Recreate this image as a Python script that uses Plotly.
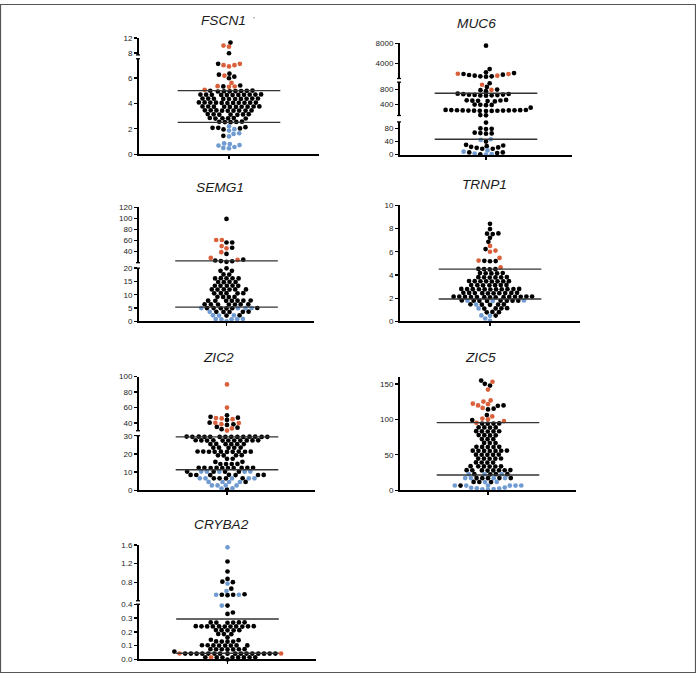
import math
import plotly.graph_objects as go

W, H = 696, 678
RED, BLACK, BLUE = '#D9603B', '#000000', '#6F9BD1'

# ---------------- data ----------------
FSCN1_red = [10.0, 9.7, 7.1, 7.0, 6.9, 7.0, 6.17, 5.6, 5.35, 5.3, 5.32, 5.06]
FSCN1_black = [10.8, 7.95, 7.1, 6.33, 6.25, 6.09, 5.97, 5.4, 5.33,
               5.0, 4.99, 4.98, 4.97, 4.96, 4.95, 4.94, 4.93,
               4.7, 4.69, 4.69, 4.68, 4.68, 4.67, 4.67, 4.66, 4.66, 4.65, 4.65,
               4.38, 4.38, 4.37, 4.37, 4.36, 4.36, 4.35, 4.35, 4.34, 4.34,
               4.07, 4.07, 4.06, 4.06, 4.05, 4.05, 4.04, 4.04, 4.03, 4.03, 4.02,
               3.76, 3.76, 3.75, 3.75, 3.74, 3.74, 3.73, 3.73, 3.72, 3.72,
               3.45, 3.45, 3.44, 3.44, 3.43, 3.43, 3.42, 3.42, 3.41,
               3.16, 3.15, 3.14, 3.13, 3.12, 3.11, 3.1,
               2.85, 2.84, 2.83, 2.82, 2.81, 2.8,
               2.56, 2.55, 2.54, 2.53, 2.52,
               2.13, 2.08, 2.08, 2.03, 1.95, 1.45]
FSCN1_blue = [2.2, 1.97, 1.86, 1.65, 1.6, 1.4, 0.85, 0.8, 0.72, 0.68, 0.57, 0.5, 0.47]
FSCN1_lines = [5.0, 2.5]
FSCN1_ticks = [[0, 2, 4, 6], [8, 12]]

MUC6_red = [1900, 1560, 1950, 930, 790]
MUC6_black = [7550, 2880,
              2230, 1900, 1760, 1440, 1360, 1440, 1560, 1700, 2090,
              970, 870, 757, 784, 800,
              690, 680, 675, 665, 660, 655, 650, 645, 640, 635,
              520, 510, 505, 500, 495, 490, 480,
              395, 390, 385, 380, 310,
              250, 248, 246, 244, 242, 240, 238, 236, 234, 232, 230, 228, 226, 224, 222,
              112, 105, 98, 80, 79, 78, 67, 66, 65, 64, 40,
              30, 28, 26, 24, 22, 21, 18, 18, 7, 7, 5, 1]
MUC6_blue = [47, 45, 13, 9, 3, 1.5, 0.5]
MUC6_lines = [700, 47]
MUC6_ticks = [[0, 40, 80], [400, 800], [4000, 8000]]

SEMG1_red = [61, 61, 50, 46, 39, 28.7, 25]
SEMG1_black = [99, 56.5, 56.5, 47, 36, 25.5, 24, 23, 22.7, 21.6,
               19.95, 19.0, 19.0,
               17.65, 17.6,
               16.25, 16.2, 16.2, 16.15, 16.15,
               14.85, 14.8, 14.8, 14.75,
               13.45, 13.4, 13.4, 13.35, 13.35,
               12.05, 12.0, 12.0, 12.0, 11.95, 11.95,
               10.65, 10.6, 10.6, 10.55, 10.55,
               9.25, 9.2, 9.2, 9.15,
               7.85, 7.8, 7.8, 7.8, 7.75, 7.75, 7.75,
               6.45, 6.4, 6.4, 6.4, 6.35, 6.35, 6.35,
               5.05, 5.0, 5.0, 4.95, 4.95, 4.9,
               3.65, 3.6, 3.6, 3.55, 3.55, 2.3, 2.2]
SEMG1_blue = [5.02, 5.0, 4.98, 5.0, 3.6, 2.3, 2.25, 2.2, 0.95, 0.9, 0.85, 0.8, 0.75, 0.05]
SEMG1_lines = [23.5, 5.4]
SEMG1_ticks = [[0, 5, 10, 15, 20], [40, 60, 80, 100, 120]]

TRNP1_red = [6.5, 6.1, 6.0, 5.47, 5.24, 4.65]
TRNP1_black = [8.4, 7.95, 7.58, 7.52, 7.56, 7.2, 6.85, 6.23, 5.2, 5.18, 5.22,
               4.52, 4.5, 4.5, 4.48,
               4.17, 4.16, 4.15, 4.14, 4.13,
               3.82, 3.81, 3.8, 3.8, 3.79, 3.78,
               3.48, 3.47, 3.47, 3.46, 3.46, 3.45, 3.45, 3.44,
               3.14, 3.13, 3.13, 3.12, 3.12, 3.11, 3.11,
               2.8, 2.8, 2.79, 2.79, 2.78, 2.78, 2.77, 2.77, 2.76, 2.76, 2.75,
               2.46, 2.46, 2.45, 2.45, 2.44, 2.44, 2.43, 2.43, 2.42, 2.42,
               2.14, 2.14, 2.13, 2.13, 2.12, 2.12, 2.11, 2.11, 2.1, 2.1, 2.09, 2.09, 2.08, 2.08,
               1.8, 1.79, 1.79, 1.78, 1.78, 1.77, 1.77, 1.76,
               1.47, 1.46, 1.45, 1.44, 1.43,
               1.14, 1.13, 1.12, 1.11,
               0.82, 0.8, 0.78, 0.5]
TRNP1_blue = [1.81, 1.78, 1.75, 1.45, 1.12, 0.52, 0.48, 0.25, 0.05]
TRNP1_lines = [4.5, 1.93]
TRNP1_ticks = [[0, 2, 4, 6, 8, 10]]

ZIC2_red = [90, 60, 46, 45, 46.5, 40.3, 40, 38.5, 33, 30.2]
ZIC2_black = [50, 48, 47, 44, 40.5, 38.3, 37.6, 35, 34, 32,
              29.5, 29.5, 29.45, 29.45, 29.4, 29.4, 29.4, 29.4, 29.35, 29.35, 29.3, 29.3, 29.3, 29.3,
              27.5, 27.45, 27.45, 27.4, 27.4, 27.4, 27.35, 27.35, 27.3, 27.3, 27.3,
              25.45, 25.4, 25.4, 25.35, 25.35, 25.3,
              23.45, 23.4, 23.4, 23.35, 23.3,
              21.3, 21.25, 21.25, 21.2, 21.2, 21.15, 21.15, 21.1, 21.1, 21.05,
              19.25, 19.2, 19.2, 19.15, 17.3, 17.25, 15.6, 15.55,
              14.45, 14.4, 14.4, 14.35,
              12.35, 12.35, 12.3, 12.3, 12.25, 12.25, 12.2, 12.2, 12.15, 12.15,
              10.25, 10.2, 10.2, 10.15,
              8.45, 8.4, 8.4, 8.35, 8.35, 8.3, 8.3,
              6.55, 6.5, 6.5, 6.45, 4.55, 0.3]
ZIC2_blue = [10.22, 10.2, 10.18, 10.2, 10.22, 6.52, 6.5, 6.48, 6.5, 6.52,
             4.52, 4.5, 4.48, 4.5, 2.62, 2.6, 2.58, 2.6, 1.0, 0.9]
ZIC2_lines = [29.3, 11.25]
ZIC2_ticks = [[0, 10, 20, 30], [40, 60, 80, 100]]

ZIC5_red = [153, 142, 126.7, 125, 122, 121.4, 119.6, 116, 104, 101, 100, 97.5, 95]
ZIC5_black = [154.6, 150, 147.6, 119.6, 119, 115, 114, 106, 99,
              94.2, 94, 93.8, 94,
              88.7, 88.5, 88.3, 88.5,
              83.2, 83.1, 83, 82.9, 82.8,
              77.7, 77.6, 77.4, 77.3,
              72.1, 72, 71.9,
              66.6, 66.5, 66.4,
              61.2, 61.1, 61, 60.9, 60.8,
              55.8, 55.7, 55.6, 55.5, 55.4, 55.3, 55.2,
              50.2, 50.1, 50, 49.9, 49.8,
              44.7, 44.6, 44.5, 44.4, 44.3,
              39.1, 39, 38.9, 38.8,
              33.8, 33.7, 33.6, 33.5, 33.4, 33.3,
              28.3, 28.2, 28.1, 28.1, 28, 27.9, 27.8, 27.7,
              22.6, 22.5, 22.5, 22.4,
              17.1, 17.0, 17.0, 16.9, 16.9,
              11.6, 11.5, 11.4, 6.5]
ZIC5_blue = [22.55, 22.5, 22.45, 17.05, 16.95, 17.0, 17.0, 11.55, 11.45,
             6.6, 6.55, 6.5, 6.45, 6.4, 6.35, 3.7, 3.4, 2.6, 2.3, 1.5, 1.2, 0.3]
ZIC5_lines = [95.3, 21.4]
ZIC5_ticks = [[0, 50, 100, 150]]

CRYBA2_red = [0.0435, 0.0435, 0.016]
CRYBA2_black = [1.245, 1.03, 0.87, 0.81, 0.8, 0.66, 0.54, 0.53, 0.52, 0.53,
                0.39, 0.34, 0.33,
                0.269, 0.268, 0.268, 0.267, 0.267, 0.266,
                0.241, 0.241, 0.240, 0.240, 0.240, 0.239, 0.239, 0.239, 0.238, 0.238, 0.238,
                0.213, 0.212, 0.212, 0.211, 0.211, 0.185, 0.184, 0.183, 0.16, 0.143, 0.14,
                0.131, 0.130, 0.130, 0.129,
                0.103, 0.103, 0.102, 0.102, 0.102, 0.101, 0.101, 0.101,
                0.075, 0.075, 0.074, 0.074, 0.074, 0.073, 0.073, 0.057,
                0.043, 0.043, 0.043, 0.043, 0.043, 0.043, 0.043, 0.043,
                0.042, 0.042, 0.042, 0.042, 0.042, 0.042, 0.042, 0.042,
                0.016, 0.016, 0.016, 0.015, 0.015, 0.015, 0.015, 0.014, 0.0]
CRYBA2_blue = [1.55, 0.77, 0.61, 0.53, 0.53, 0.39]
CRYBA2_lines = [0.293, 0.045]
CRYBA2_ticks = [[0.0, 0.1, 0.2, 0.3, 0.4], [0.8, 1.2, 1.6]]

# ---------------- layout geometry (pixels) ----------------
# segment: (vmin, vmax, px_bottom, px_top)
PANELS = [
    dict(name='FSCN1', red=FSCN1_red, black=FSCN1_black, blue=FSCN1_blue, lines=FSCN1_lines, ticks=FSCN1_ticks,
         x0=139, x1=319, segs=[(0, 7.5, 152.3, 55.5), (7.5, 12, 51.6, 34.6)], title=(223, 17), fmt=None),
    dict(name='MUC6', red=MUC6_red, black=MUC6_black, blue=MUC6_blue, lines=MUC6_lines, ticks=MUC6_ticks,
         x0=400, x1=572, segs=[(0, 100, 152.7, 119.5), (100, 1000, 113, 79.2), (1000, 8000, 75.5, 40)],
         title=(477, 20), fmt=None),
    dict(name='SEMG1', red=SEMG1_red, black=SEMG1_black, blue=SEMG1_blue, lines=SEMG1_lines, ticks=SEMG1_ticks,
         x0=139, x1=314, segs=[(0, 20, 321.7, 267.7), (20, 120, 262.2, 206)], title=(219.5, 186.2), fmt=None),
    dict(name='TRNP1', red=TRNP1_red, black=TRNP1_black, blue=TRNP1_blue, lines=TRNP1_lines, ticks=TRNP1_ticks,
         x0=400, x1=580, segs=[(0, 10, 321.7, 204)], title=(484, 182.5), fmt=None),
    dict(name='ZIC2', red=ZIC2_red, black=ZIC2_black, blue=ZIC2_blue, lines=ZIC2_lines, ticks=ZIC2_ticks,
         x0=139, x1=315, segs=[(0, 30, 492.7, 437.5), (30, 100, 432.5, 377.7)], title=(218.3, 357.8), fmt=None),
    dict(name='ZIC5', red=ZIC5_red, black=ZIC5_black, blue=ZIC5_blue, lines=ZIC5_lines, ticks=ZIC5_ticks,
         x0=400, x1=576, segs=[(0, 160, 492.7, 377.8)], title=(480, 357.8), fmt=None),
    dict(name='CRYBA2', red=CRYBA2_red, black=CRYBA2_black, blue=CRYBA2_blue, lines=CRYBA2_lines,
         ticks=CRYBA2_ticks, x0=139, x1=316, segs=[(0, 0.4, 664.3, 608.3), (0.4, 1.6, 604.8, 548.3)],
         title=(221.7, 527.8), fmt='.1f'),
]

DOT = 4.7
DX0, DY0 = 5.7, 4.3
LINE_HALF = 51.3
FONT = 'Arial, Liberation Sans, Helvetica, sans-serif'


def px_x(p):
    return p / W


def px_y(p):
    return 1 - p / H


def seg_of(segs, v):
    for k, s in enumerate(segs):
        if s[0] <= v <= s[1]:
            return k
    return 0 if v < segs[0][0] else len(segs) - 1


def to_px(segs, v):
    s = segs[seg_of(segs, v)]
    return s[2] - (v - s[0]) / (s[1] - s[0]) * (s[2] - s[3])


def swarm(hs):
    order = sorted(range(len(hs)), key=lambda i: hs[i])
    xs = [0.0] * len(hs)
    placed = []
    toggle = True
    for i in order:
        h = hs[i]
        near = [(xj, hj) for (xj, hj) in placed if abs(h - hj) < DY0]
        cands = [0.0]
        for xj, hj in near:
            off = DX0 * math.sqrt(max(0.0, 1 - ((h - hj) / DY0) ** 2))
            cands += [xj + off, xj - off]

        def ok(c):
            for xj, hj in near:
                if ((c - xj) / DX0) ** 2 + ((h - hj) / DY0) ** 2 < 1 - 1e-6:
                    return False
            return True

        valid = [c for c in cands if ok(c)]
        best = min(abs(c) for c in valid)
        ties = sorted(set(round(c, 6) for c in valid if abs(abs(c) - best) < 1e-6))
        if len(ties) > 1:
            c = ties[0] if toggle else ties[-1]
            toggle = not toggle
        else:
            c = ties[0]
        xs[i] = c
        placed.append((c, h))
    return xs


fig = go.Figure()
layout = {}
shapes = []
annotations = []
ax_n = 0
xn = 0

for P in PANELS:
    xn += 1
    xname = 'x' if xn == 1 else f'x{xn}'
    xkey = 'xaxis' if xn == 1 else f'xaxis{xn}'
    segs = P['segs']
    ynames = []
    for k, s in enumerate(segs):
        ax_n += 1
        yname = 'y' if ax_n == 1 else f'y{ax_n}'
        ykey = 'yaxis' if ax_n == 1 else f'yaxis{ax_n}'
        ynames.append(yname)
        layout[ykey] = dict(
            domain=[px_y(s[2]), px_y(s[3])], range=[s[0], s[1]], anchor=xname,
            showline=True, linewidth=2, linecolor='black', showgrid=False, zeroline=False,
            ticks='outside', ticklen=3, tickwidth=1.3, tickcolor='black',
            tickvals=P['ticks'][k], tickfont=dict(size=8, color='#222', family=FONT),
            tickformat=P['fmt'] if P['fmt'] else None, fixedrange=True)
        xa = P['x0']
        if k > 0:
            shapes.append(dict(type='line', xref='paper', yref='paper', x0=px_x(xa - 3), x1=px_x(xa + 1),
                               y0=px_y(s[2]), y1=px_y(s[2]), line=dict(color='black', width=1.3)))
        if k < len(segs) - 1:
            shapes.append(dict(type='line', xref='paper', yref='paper', x0=px_x(xa - 3), x1=px_x(xa + 1),
                               y0=px_y(s[3]), y1=px_y(s[3]), line=dict(color='black', width=1.3)))
    half = (P['x1'] - P['x0']) / 2
    layout[xkey] = dict(
        domain=[px_x(P['x0']), px_x(P['x1'])], range=[-half, half], anchor=ynames[0],
        showline=True, linewidth=2, linecolor='black', showgrid=False, zeroline=False,
        ticks='outside', ticklen=3, tickwidth=1.3, tickcolor='black', tickvals=[0],
        showticklabels=False, fixedrange=True)

    vals, cols = [], []
    for c, arr in ((RED, P['red']), (BLACK, P['black']), (BLUE, P['blue'])):
        vals += arr
        cols += [c] * len(arr)
    bottom = segs[0][2]
    hs = [bottom - to_px(segs, v) for v in vals]
    xs = swarm(hs)
    for k in range(len(segs)):
        for c in (BLACK, RED, BLUE):
            px_ = [xs[i] for i in range(len(vals)) if cols[i] == c and seg_of(segs, vals[i]) == k]
            py_ = [vals[i] for i in range(len(vals)) if cols[i] == c and seg_of(segs, vals[i]) == k]
            if px_:
                fig.add_trace(go.Scatter(x=px_, y=py_, xaxis=xname, yaxis=ynames[k], mode='markers',
                                         marker=dict(size=DOT, color=c, line=dict(width=0)),
                                         showlegend=False, hoverinfo='skip', cliponaxis=False))
    for lv in P['lines']:
        k = seg_of(segs, lv)
        fig.add_trace(go.Scatter(x=[-LINE_HALF, LINE_HALF], y=[lv, lv], xaxis=xname, yaxis=ynames[k],
                                 mode='lines', line=dict(color='#333', width=1.3),
                                 showlegend=False, hoverinfo='skip'))
    tx, ty = P['title']
    annotations.append(dict(xref='paper', yref='paper', x=px_x(tx), y=px_y(ty), xanchor='center',
                            yanchor='middle', showarrow=False, text=f"<i>{P['name']}</i>",
                            font=dict(size=13.7, color='#1a1a1a', family=FONT)))

shapes.append(dict(type='circle', xref='paper', yref='paper', x0=px_x(253.3), x1=px_x(254.7),
                   y0=px_y(14.7), y1=px_y(13.3), fillcolor='#777', line=dict(width=0)))
shapes.append(dict(type='rect', xref='paper', yref='paper', x0=px_x(0.5), x1=px_x(695.5),
                   y0=px_y(677.5), y1=px_y(0.5), line=dict(color='#555', width=1.2)))

fig.update_layout(width=W, height=H, autosize=False, margin=dict(l=0, r=0, t=0, b=0),
                  paper_bgcolor='white', plot_bgcolor='rgba(0,0,0,0)', shapes=shapes,
                  annotations=annotations, showlegend=False, **layout)
fig.write_html('out.html', config={'displayModeBar': False, 'staticPlot': True},
               post_script="document.body.style.margin='0';document.body.style.overflow='hidden';")
